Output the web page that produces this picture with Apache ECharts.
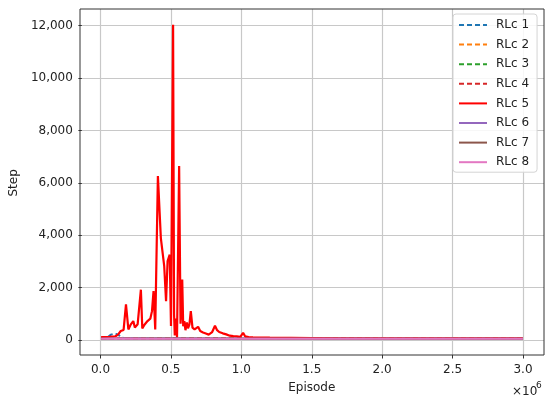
<!DOCTYPE html>
<html>
<head>
<meta charset="utf-8">
<script src="https://cdn.jsdelivr.net/npm/echarts@6/dist/echarts.min.js"></script>
<style>html,body{margin:0;padding:0;background:#fff;}#c{width:550px;height:403px;}</style>
</head>
<body>
<div id="c"></div>
<script>
// ---- data (episode, step) ----
const seriesNames = ['RLc 1','RLc 2','RLc 3','RLc 4','RLc 5','RLc 6','RLc 7','RLc 8'];
const xTickValues = [0, 500000, 1000000, 1500000, 2000000, 2500000, 3000000];
const yTickValues = [0, 2000, 4000, 6000, 8000, 10000, 12000];

const rlc1 = [[0,30],[40000,40],[55000,120],[70000,180],[90000,210],[110000,200],[125000,170],[140000,80],[170000,40],[400000,35],[1000000,30],[2000000,30],[3000000,30]];
const rlc2 = [[0,28],[100000,35],[400000,32],[1000000,30],[2000000,28],[3000000,28]];
const rlc3 = [[0,26],[100000,33],[400000,30],[1000000,28],[2000000,27],[3000000,27]];
const rlc4 = [[0,30],[100000,40],[400000,35],[1000000,30],[2000000,30],[3000000,30]];
const rlc5 = [[0,90],[60000,95],[100000,110],[120000,180],[140000,320],[160000,360],[177000,1340],[194000,380],[210000,560],[229000,700],[240000,450],[260000,580],[283000,1900],[293000,420],[310000,570],[330000,700],[350000,790],[362000,1080],[373000,1845],[385000,380],[404000,6250],[425000,3880],[449000,2800],[462000,1460],[473000,3000],[488000,3240],[492000,3260],[497000,510],[512000,12050],[519000,950],[524000,150],[531000,800],[540000,80],[555000,6640],[565000,600],[570000,1000],[577000,2290],[584000,500],[592000,700],[600000,350],[610000,650],[618000,420],[628000,560],[638000,1080],[650000,450],[665000,380],[690000,480],[705000,320],[725000,260],[745000,220],[765000,180],[790000,280],[810000,520],[825000,350],[840000,280],[865000,230],[890000,190],[915000,140],[940000,120],[965000,110],[990000,95],[1010000,250],[1025000,110],[1050000,90],[1080000,80],[1120000,70],[1200000,62],[1350000,58],[1500000,50],[1700000,40],[2000000,35],[2500000,35],[3000000,35]];
const rlc6 = [[0,24],[100000,30],[400000,28],[1000000,26],[2000000,26],[3000000,26]];
const rlc7 = [[0,25],[100000,32],[400000,29],[1000000,27],[2000000,27],[3000000,27]];
const rlc8 = [[0,22],[100000,28],[400000,26],[1000000,25],[2000000,25],[3000000,25]];

const allData = [rlc1, rlc2, rlc3, rlc4, rlc5, rlc6, rlc7, rlc8];
const colors = ['#1f77b4','#ff7f0e','#2ca02c','#d62728','#ff0000','#9467bd','#8c564b','#e377c2'];
const dashed = [true,true,true,true,false,false,false,false];

const FONT = 'DejaVu Sans';
const chart = echarts.init(document.getElementById('c'), null, {renderer: 'canvas'});

const series = allData.map((d, i) => ({
  name: seriesNames[i],
  type: 'line',
  xAxisIndex: 0,
  yAxisIndex: 0,
  data: d,
  showSymbol: false,
  symbol: 'none',
  animation: false,
  z: 10 + i,
  lineStyle: { color: colors[i], width: i === 4 ? 2.2 : 2, type: dashed[i] ? [5, 3] : 'solid' },
  itemStyle: { color: colors[i] }
}));

const gridColor = '#c8c8c8';
chart.setOption({
  animation: false,
  backgroundColor: '#ffffff',
  textStyle: { fontFamily: FONT },
  grid: [
    { left: 80, right: 6, top: 9, bottom: 48, show: true, borderColor: '#333', borderWidth: 1, backgroundColor: 'transparent', z: 5 },
    { left: 100.5, right: 27, top: 9, bottom: 48 },
    { left: 80, right: 6, top: 25.7, bottom: 63 }
  ],
  xAxis: [
    { gridIndex: 0, type: 'value', min: -150000, max: 3150000, show: false },
    { gridIndex: 1, type: 'value', min: 0, max: 3000000, interval: 500000,
      axisLine: { show: false },
      axisTick: { show: true, length: 3.5, lineStyle: { color: '#333' } },
      axisLabel: { margin: 9, fontSize: 12, color: '#222', fontFamily: FONT,
        formatter: v => (v / 1e6).toFixed(1) },
      splitLine: { show: true, lineStyle: { color: gridColor, width: 1.2 } },
      name: 'Episode', nameLocation: 'middle', nameGap: 27,
      nameTextStyle: { fontSize: 12, color: '#222', fontFamily: FONT }
    },
    { gridIndex: 2, type: 'value', min: 0, max: 1, show: false }
  ],
  yAxis: [
    { gridIndex: 0, type: 'value', min: -600, max: 12650, show: false },
    { gridIndex: 1, type: 'value', min: 0, max: 1, show: false },
    { gridIndex: 2, type: 'value', min: 0, max: 12000, interval: 2000,
      axisLine: { show: false },
      axisTick: { show: true, length: 3.5, lineStyle: { color: '#333' } },
      axisLabel: { margin: 9, fontSize: 12, color: '#222', fontFamily: FONT,
        formatter: v => v.toLocaleString('en-US') },
      splitLine: { show: true, lineStyle: { color: gridColor, width: 1.2 } },
      name: 'Step', nameLocation: 'middle', nameGap: 61, nameRotate: 90,
      nameTextStyle: { fontSize: 12, color: '#222', fontFamily: FONT }
    }
  ],
  legend: {
    data: seriesNames,
    orient: 'vertical',
    left: 453,
    top: 14,
    padding: [5, 8, 4, 5],
    itemWidth: 28,
    itemHeight: 12,
    itemGap: 7.6,
    itemStyle: { opacity: 0 },
    backgroundColor: 'rgba(255,255,255,0.85)',
    borderColor: '#d4d4d4',
    borderWidth: 1,
    borderRadius: 3,
    textStyle: { fontSize: 12, color: '#222', fontFamily: FONT, padding: [0, 0, 0, 4] },
    z: 50
  },
  graphic: [
    { type: 'text', left: 512, top: 386, z: 50,
      style: { text: '×10', fontSize: 12, fill: '#222', fontFamily: FONT } },
    { type: 'text', left: 536, top: 381, z: 50,
      style: { text: '6', fontSize: 9, fill: '#222', fontFamily: FONT } }
  ],
  series: series
});
</script>
</body>
</html>
